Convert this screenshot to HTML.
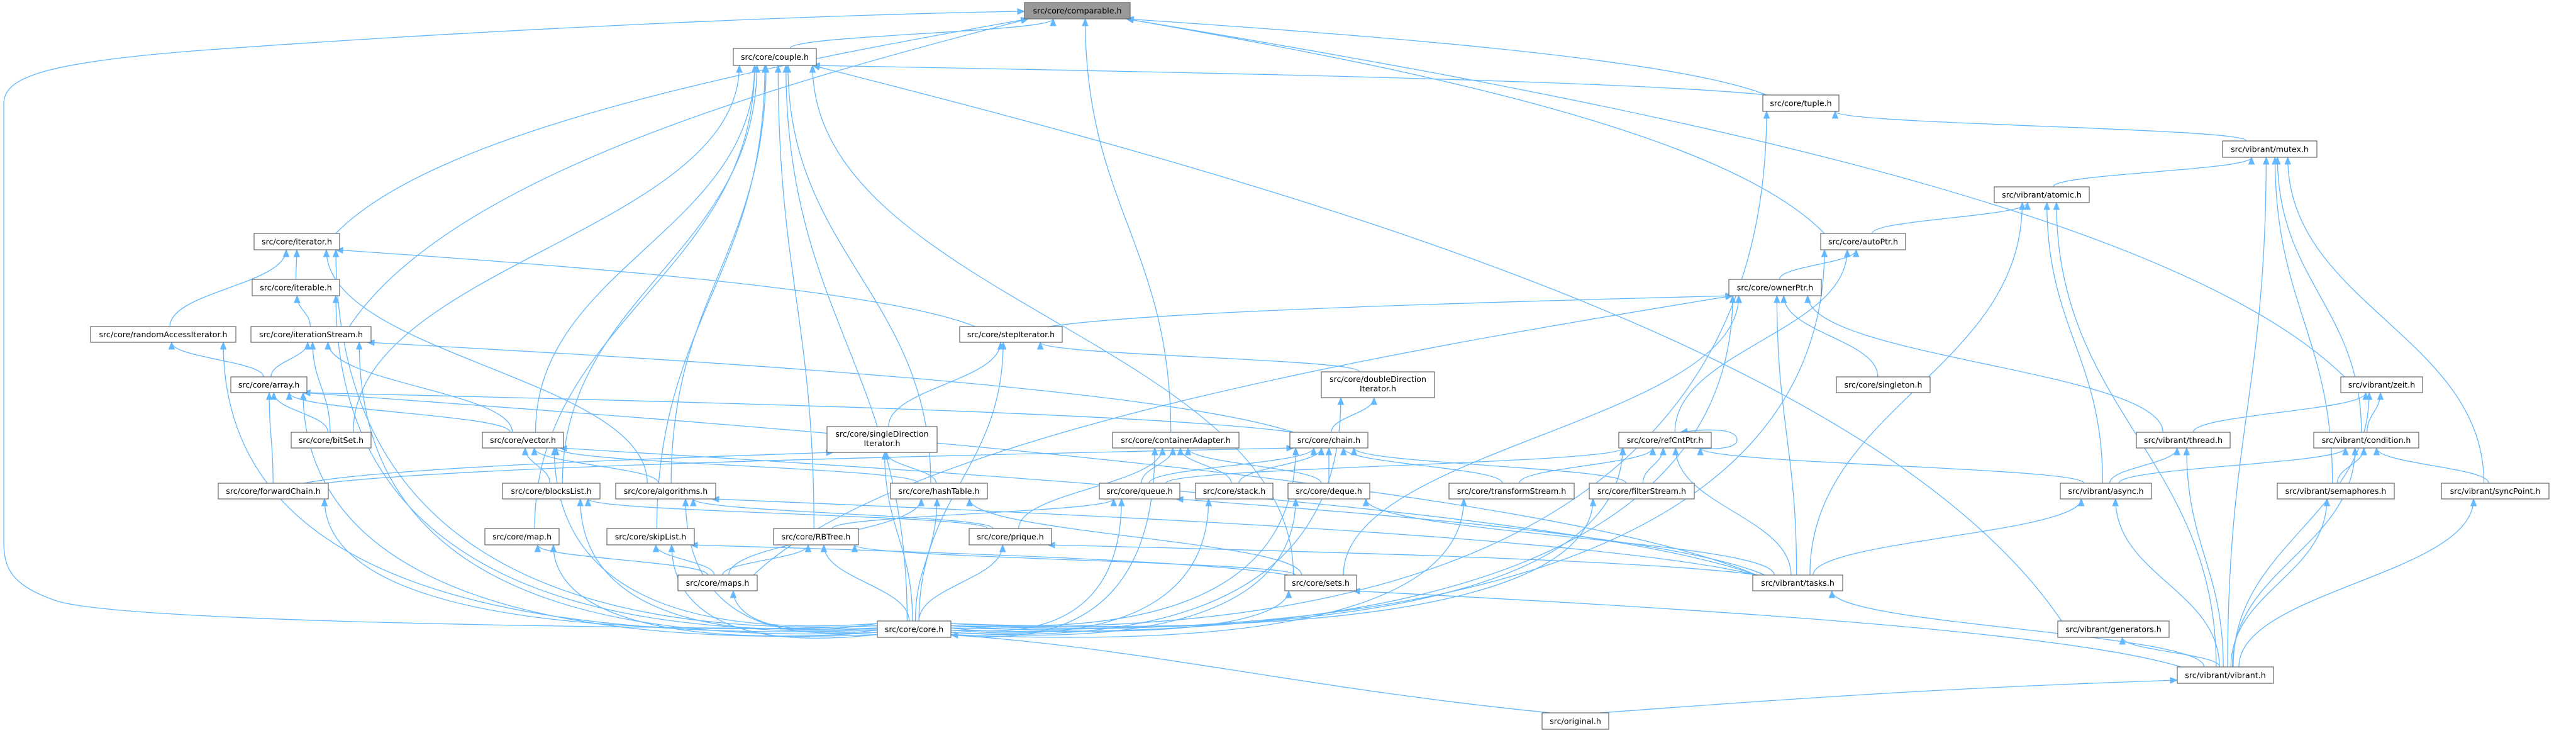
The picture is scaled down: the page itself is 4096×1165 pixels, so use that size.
<!DOCTYPE html>
<html><head><meta charset="utf-8">
<style>
html,body{margin:0;padding:0;background:#fff;}
svg{display:block;}
text{font-family:"DejaVu Sans","Liberation Sans",sans-serif;font-size:12.6px;fill:#000;}
rect.n{fill:#fff;stroke:#666;stroke-width:1.2;}
rect.g{fill:#999;stroke:#666;stroke-width:1.2;}
path.e{fill:none;stroke:#63b8ff;stroke-width:1.3;}
path.a{fill:#63b8ff;stroke:#63b8ff;stroke-width:1;}
</style></head><body>
<svg id="s" width="4096" height="1165" viewBox="0 0 4096 1165" xmlns="http://www.w3.org/2000/svg">
<g id="edges"></g>
<g id="nodes">
<rect class="g" x="1629" y="4" width="168" height="26"/><text x="1713" y="21.5" text-anchor="middle">src/core/comparable.h</text>
<rect class="n" x="1166" y="77" width="132" height="27"/><text x="1232" y="95" text-anchor="middle">src/core/couple.h</text>
<rect class="n" x="2803" y="151" width="121" height="26"/><text x="2863.5" y="168.5" text-anchor="middle">src/core/tuple.h</text>
<rect class="n" x="3534" y="224" width="150" height="26"/><text x="3609" y="241.5" text-anchor="middle">src/vibrant/mutex.h</text>
<rect class="n" x="3171" y="297" width="151" height="25"/><text x="3246.5" y="314" text-anchor="middle">src/vibrant/atomic.h</text>
<rect class="n" x="404" y="371" width="136" height="26"/><text x="472" y="388.5" text-anchor="middle">src/core/iterator.h</text>
<rect class="n" x="2895" y="371" width="135" height="26"/><text x="2962.5" y="388.5" text-anchor="middle">src/core/autoPtr.h</text>
<rect class="n" x="401" y="444" width="139" height="26"/><text x="470.5" y="461.5" text-anchor="middle">src/core/iterable.h</text>
<rect class="n" x="2749" y="444" width="147" height="26"/><text x="2822.5" y="461.5" text-anchor="middle">src/core/ownerPtr.h</text>
<rect class="n" x="144" y="519" width="231" height="25"/><text x="259.5" y="536" text-anchor="middle">src/core/randomAccessIterator.h</text>
<rect class="n" x="399" y="519" width="191" height="25"/><text x="494.5" y="536" text-anchor="middle">src/core/iterationStream.h</text>
<rect class="n" x="1526" y="519" width="163" height="25"/><text x="1607.5" y="536" text-anchor="middle">src/core/stepIterator.h</text>
<rect class="n" x="367" y="599" width="121" height="25"/><text x="427.5" y="616" text-anchor="middle">src/core/array.h</text>
<rect class="n" x="2101" y="591" width="180" height="41"/><text x="2191" y="607" text-anchor="middle">src/core/doubleDirection</text><text x="2191" y="622" text-anchor="middle">Iterator.h</text>
<rect class="n" x="2920" y="599" width="149" height="25"/><text x="2994.5" y="616" text-anchor="middle">src/core/singleton.h</text>
<rect class="n" x="3722" y="599" width="130" height="25"/><text x="3787" y="616" text-anchor="middle">src/vibrant/zeit.h</text>
<rect class="n" x="1315" y="678" width="175" height="41"/><text x="1402.5" y="694" text-anchor="middle">src/core/singleDirection</text><text x="1402.5" y="709" text-anchor="middle">Iterator.h</text>
<rect class="n" x="463" y="687" width="127" height="25"/><text x="526.5" y="704" text-anchor="middle">src/core/bitSet.h</text>
<rect class="n" x="767" y="687" width="129" height="25"/><text x="831.5" y="704" text-anchor="middle">src/core/vector.h</text>
<rect class="n" x="1769" y="687" width="201" height="25"/><text x="1869.5" y="704" text-anchor="middle">src/core/containerAdapter.h</text>
<rect class="n" x="2051" y="687" width="124" height="25"/><text x="2113" y="704" text-anchor="middle">src/core/chain.h</text>
<rect class="n" x="2574" y="687" width="147" height="25"/><text x="2647.5" y="704" text-anchor="middle">src/core/refCntPtr.h</text>
<rect class="n" x="3397" y="687" width="149" height="25"/><text x="3471.5" y="704" text-anchor="middle">src/vibrant/thread.h</text>
<rect class="n" x="3679" y="687" width="167" height="25"/><text x="3762.5" y="704" text-anchor="middle">src/vibrant/condition.h</text>
<rect class="n" x="347" y="768" width="175" height="25"/><text x="434.5" y="785" text-anchor="middle">src/core/forwardChain.h</text>
<rect class="n" x="799" y="768" width="155" height="25"/><text x="876.5" y="785" text-anchor="middle">src/core/blocksList.h</text>
<rect class="n" x="979" y="768" width="159" height="25"/><text x="1058.5" y="785" text-anchor="middle">src/core/algorithms.h</text>
<rect class="n" x="1416" y="768" width="154" height="25"/><text x="1493" y="785" text-anchor="middle">src/core/hashTable.h</text>
<rect class="n" x="1748" y="768" width="128" height="25"/><text x="1812" y="785" text-anchor="middle">src/core/queue.h</text>
<rect class="n" x="1901" y="768" width="123" height="25"/><text x="1962.5" y="785" text-anchor="middle">src/core/stack.h</text>
<rect class="n" x="2048" y="768" width="130" height="25"/><text x="2113" y="785" text-anchor="middle">src/core/deque.h</text>
<rect class="n" x="2304" y="768" width="199" height="25"/><text x="2403.5" y="785" text-anchor="middle">src/core/transformStream.h</text>
<rect class="n" x="2527" y="768" width="167" height="25"/><text x="2610.5" y="785" text-anchor="middle">src/core/filterStream.h</text>
<rect class="n" x="3276" y="768" width="145" height="25"/><text x="3348.5" y="785" text-anchor="middle">src/vibrant/async.h</text>
<rect class="n" x="3621" y="768" width="186" height="25"/><text x="3714" y="785" text-anchor="middle">src/vibrant/semaphores.h</text>
<rect class="n" x="3882" y="768" width="171" height="25"/><text x="3967.5" y="785" text-anchor="middle">src/vibrant/syncPoint.h</text>
<rect class="n" x="771" y="840" width="118" height="26"/><text x="830" y="857.5" text-anchor="middle">src/core/map.h</text>
<rect class="n" x="965" y="840" width="139" height="26"/><text x="1034.5" y="857.5" text-anchor="middle">src/core/skipList.h</text>
<rect class="n" x="1230" y="840" width="135" height="26"/><text x="1297.5" y="857.5" text-anchor="middle">src/core/RBTree.h</text>
<rect class="n" x="1541" y="840" width="131" height="26"/><text x="1606.5" y="857.5" text-anchor="middle">src/core/prique.h</text>
<rect class="n" x="1078" y="914" width="126" height="25"/><text x="1141" y="931" text-anchor="middle">src/core/maps.h</text>
<rect class="n" x="2043" y="914" width="114" height="25"/><text x="2100" y="931" text-anchor="middle">src/core/sets.h</text>
<rect class="n" x="2787" y="914" width="143" height="25"/><text x="2858.5" y="931" text-anchor="middle">src/vibrant/tasks.h</text>
<rect class="n" x="1395" y="987" width="117" height="26"/><text x="1453.5" y="1004.5" text-anchor="middle">src/core/core.h</text>
<rect class="n" x="3272" y="987" width="177" height="26"/><text x="3360.5" y="1004.5" text-anchor="middle">src/vibrant/generators.h</text>
<rect class="n" x="3462" y="1060" width="153" height="26"/><text x="3538.5" y="1077.5" text-anchor="middle">src/vibrant/vibrant.h</text>
<rect class="n" x="2452" y="1133" width="106" height="26"/><text x="2505" y="1150.5" text-anchor="middle">src/original.h</text>
</g>
</svg>
<script>
var N={
comparable:[1629,1797,4,30],couple:[1166,1298,77,104],tuple:[2803,2924,151,177],mutex:[3534,3684,224,250],
atomic:[3171,3322,297,322],iterator:[404,540,371,397],autoPtr:[2895,3030,371,397],iterable:[401,540,444,470],
ownerPtr:[2749,2896,444,470],rai:[144,375,519,544],itStream:[399,590,519,544],step:[1526,1689,519,544],
array:[367,488,599,624],ddi:[2101,2281,591,632],singleton:[2920,3069,599,624],zeit:[3722,3852,599,624],
sdi:[1315,1490,678,719],bitSet:[463,590,687,712],vector:[767,896,687,712],ca:[1769,1970,687,712],
chain:[2051,2175,687,712],rcp:[2574,2721,687,712],thread:[3397,3546,687,712],condition:[3679,3846,687,712],
fchain:[347,522,768,793],blocks:[799,954,768,793],algo:[979,1138,768,793],hash:[1416,1570,768,793],
queue:[1748,1876,768,793],stack:[1901,2024,768,793],deque:[2048,2178,768,793],tstream:[2304,2503,768,793],
fstream:[2527,2694,768,793],async:[3276,3421,768,793],sem:[3621,3807,768,793],sync:[3882,4053,768,793],
map:[771,889,840,866],skip:[965,1104,840,866],rb:[1230,1365,840,866],prique:[1541,1672,840,866],
maps:[1078,1204,914,939],sets:[2043,2157,914,939],tasks:[2787,2930,914,939],core:[1395,1512,987,1013],
gen:[3272,3449,987,1013],vibrant:[3462,3615,1060,1086],original:[2452,2558,1133,1159]};
var E=[
['couple','comparable'],['iterator','comparable'],['itStream','comparable'],['tuple','comparable'],['autoPtr','comparable'],
['ca','comparable'],['zeit','comparable'],
['tuple','couple'],['gen','couple'],['bitSet','couple'],['map','couple'],['skip','couple'],['blocks','couple'],['algo','couple'],
['rb','couple'],['core','couple'],['hash','couple'],['sets','couple'],['vector','couple'],
['mutex','tuple'],['core','tuple'],
['atomic','mutex'],['vibrant','mutex'],['sem','mutex'],['condition','mutex'],['sync','mutex'],
['autoPtr','atomic'],['tasks','atomic'],['async','atomic'],['vibrant','atomic'],
['ownerPtr','autoPtr'],['rcp','autoPtr'],['core','autoPtr'],
['iterable','iterator'],['rai','iterator'],['core','iterator'],['step','iterator'],['algo','iterator'],
['itStream','iterable'],['core','iterable'],
['array','rai'],['core','rai'],
['array','itStream'],['bitSet','itStream'],['vector','itStream'],['core','itStream'],['chain','itStream'],
['sdi','step'],['core','step'],['ddi','step'],
['step','ownerPtr'],['maps','ownerPtr'],['singleton','ownerPtr'],['thread','ownerPtr'],['core','ownerPtr'],['sets','ownerPtr'],['tasks','ownerPtr'],
['bitSet','array'],['vector','array'],['fchain','array'],['core','array'],['chain','array'],['tasks','array'],
['blocks','vector'],['algo','vector'],['core','vector'],['hash','vector'],['tasks','vector'],
['chain','ddi'],['core','ddi'],
['queue','ca'],['stack','ca'],['prique','ca'],['core','ca'],['deque','ca'],
['hash','sdi'],['core','sdi'],['fchain','sdi'],
['deque','chain'],['queue','chain'],['stack','chain'],['tstream','chain'],['fstream','chain'],['core','chain'],['fchain','chain'],
['tstream','rcp'],['fstream','rcp'],['core','rcp'],['tasks','rcp'],['async','rcp'],['queue','rcp'],
['thread','zeit'],['condition','zeit'],['vibrant','zeit'],
['async','thread'],['vibrant','thread'],
['async','condition'],['sem','condition'],['sync','condition'],['vibrant','condition'],
['vibrant','async'],['tasks','async'],['vibrant','sem'],['vibrant','sync'],
['core','fchain'],['core','blocks'],['prique','blocks'],['core','algo'],['prique','algo'],['tasks','algo'],
['core','hash'],['maps','hash'],['sets','hash'],['core','queue'],['tasks','queue'],['rb','queue'],
['core','stack'],['core','deque'],['tasks','deque'],['core','tstream'],['core','fstream'],
['maps','map'],['core','map'],['maps','skip'],['core','skip'],['sets','skip'],
['maps','rb'],['core','rb'],['sets','rb'],['core','prique'],['tasks','prique'],
['core','maps'],['core','sets'],['vibrant','sets'],['vibrant','tasks'],['vibrant','gen'],
['original','core'],['original','vibrant']
];
var g=document.getElementById('edges'),NS='http://www.w3.org/2000/svg',cnt={};
function add(d,tx,ty,ex,ey){
 var p=document.createElementNS(NS,'path');p.setAttribute('class','e');p.setAttribute('d',d);g.appendChild(p);
 var dx=ex-tx,dy=ey-ty,l=Math.sqrt(dx*dx+dy*dy)||1;dx/=l;dy/=l;
 var L=11,W=4.5,bx=ex-dx*L,by=ey-dy*L;
 var a=document.createElementNS(NS,'path');a.setAttribute('class','a');
 a.setAttribute('d','M'+ex+','+ey+' L'+(bx-dy*W)+','+(by+dx*W)+' L'+(bx+dy*W)+','+(by-dx*W)+' Z');g.appendChild(a);
}
function cl(v,a,b){return Math.max(a,Math.min(b,v));}
E.forEach(function(e){
 var c=N[e[0]],p=N[e[1]];
 var ccx=(c[0]+c[1])/2,pcx=(p[0]+p[1])/2;
 var pw=(p[1]-p[0])/2-6,cw=(c[1]-c[0])/2-6;
 var ex=pcx+cl((ccx-pcx)*0.08,-pw,pw),ey=p[3];
 var sx,sy,c1x,c1y,c2x,c2y;
 if(e[0]=='core'&&Math.abs(pcx-ccx)>250){
  var left=pcx<ccx;sx=left?c[0]:c[1];
  var k=(cnt[left?'L':'R']=(cnt[left?'L':'R']||0)+1);
  sy=c[2]+4+(k%6)*3.5;
  c1x=sx+(pcx-sx)*0.75;c1y=sy+30;
  c2x=ex;c2y=ey+(sy-ey)*0.55;
 }else if(e[0]=='original'){
  sx=ccx+(pcx>ccx?40:-40);sy=c[2];
  if(e[1]=='core'){ex=p[1];ey=p[3]-4;c1x=sx-400;c1y=sy-40;c2x=ex+300;c2y=ey+20;}
  else{ex=p[0];ey=p[3]-5;c1x=sx+400;c1y=sy-30;c2x=ex-300;c2y=ey+10;}
 }else{
  sx=ccx+cl((pcx-ccx)*0.05,-cw,cw);sy=c[2];
  var dy=sy-ey;
  c1x=sx;c1y=sy-dy*0.45;c2x=ex;c2y=ey+dy*0.45;
  if(Math.abs(pcx-ccx)>900){c1x=sx+(ex-sx)*0.15;c2x=ex-(ex-sx)*0.35;c1y=sy-dy*0.5;c2y=ey+dy*0.2;}
 }
 add('M'+sx+','+sy+' C'+c1x+','+c1y+' '+c2x+','+c2y+' '+ex+','+ey,c2x,c2y,ex,ey);
});
// core -> comparable via far left
add('M1395,1000 C1000,998 200,990 90,955 C15,930 6,900 6,860 L6,165 C6,125 60,100 320,80 C800,45 1300,24 1620,18',1300,24,1629,18);
// refCntPtr self loop
add('M2690,712 C2740,716 2762,710 2762,699 C2762,684 2730,680 2680,686',2720,680,2672,687);
</script>
</body></html>
